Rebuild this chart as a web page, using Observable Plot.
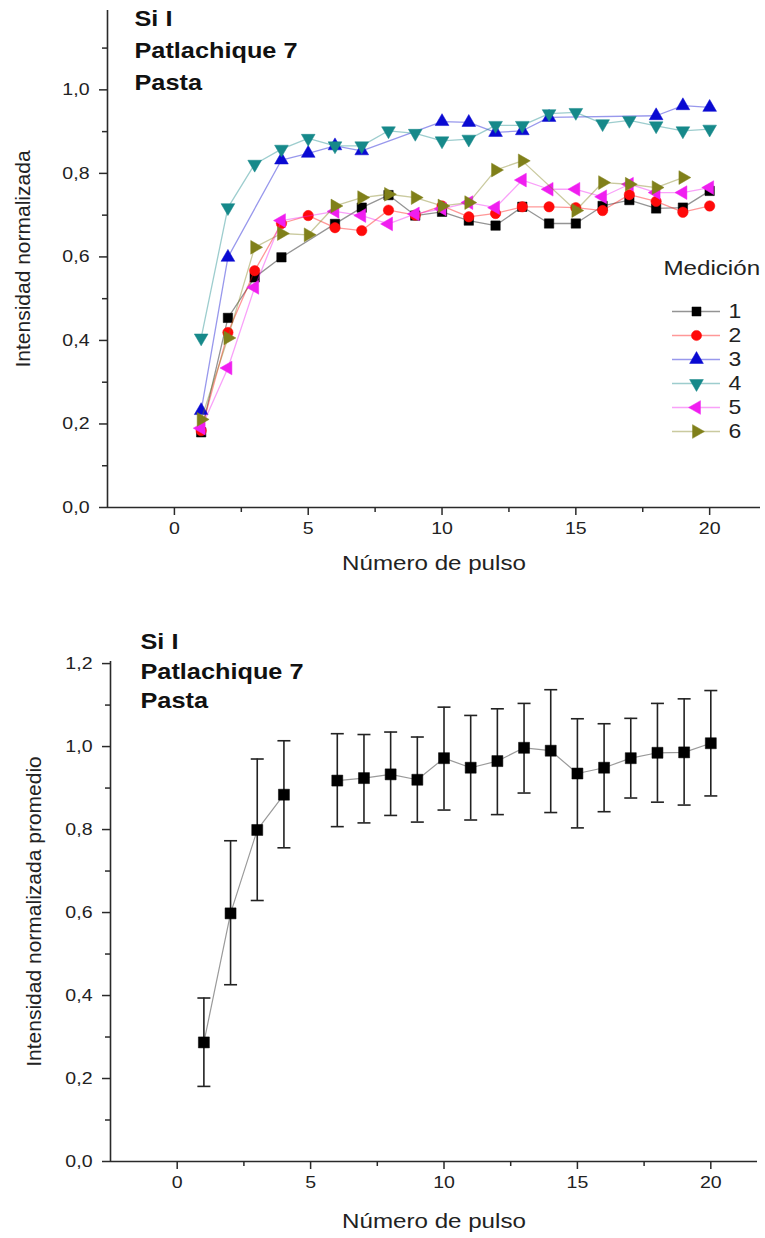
<!DOCTYPE html>
<html>
<head>
<meta charset="utf-8">
<script src="https://cdn.jsdelivr.net/npm/d3@7"></script>
<script src="https://cdn.jsdelivr.net/npm/@observablehq/plot@0.6"></script>
<style>
html, body { margin: 0; padding: 0; background: #fff; }
#wrap { position: relative; width: 765px; height: 1238px; overflow: hidden; font-family: "Liberation Sans", Arial, sans-serif; }
#top, #bottom, #legend { position: absolute; }
#top { left: 0; top: 0; }
#bottom { left: 0; top: 600px; }
#legend { left: 650px; top: 250px; }
svg { display: block; }
</style>
</head>
<body>
<div id="wrap"><div id="top"></div><div id="bottom"></div><div id="legend"></div></div>
<script>
// ---------- data ----------
const pulses = [1, 2, 3, 4, 5, 6, 7, 8, 9, 10, 11, 12, 13, 14, 15, 16, 17, 18, 19, 20];

const med1 = [0.180, 0.454, 0.551, 0.599, null, 0.679, 0.718, 0.748, 0.699, 0.708, 0.687, 0.675, 0.720, 0.680, 0.680, 0.722, 0.736, 0.716, 0.718, 0.758];
const med2 = [0.184, 0.419, 0.567, 0.680, 0.699, 0.670, 0.663, 0.712, 0.700, 0.722, 0.696, 0.704, 0.720, 0.720, 0.718, 0.711, 0.749, 0.733, 0.707, 0.722];
const med3 = [0.232, 0.599, null, 0.832, 0.848, 0.866, 0.854, null, null, 0.924, 0.922, 0.898, 0.902, 0.934, null, null, null, 0.938, 0.962, 0.958];
const med4 = [0.406, 0.718, 0.822, 0.858, 0.884, 0.866, 0.866, 0.902, 0.896, 0.878, 0.882, 0.915, 0.915, 0.943, 0.946, 0.919, 0.927, 0.914, 0.902, 0.906];
const med5 = [0.190, 0.334, 0.527, 0.687, null, 0.709, 0.699, 0.679, 0.703, 0.715, 0.730, 0.718, 0.784, 0.762, 0.762, 0.744, 0.774, 0.754, 0.754, 0.766];
const med6 = [0.211, 0.406, 0.623, 0.656, 0.653, 0.722, 0.742, 0.750, 0.742, 0.722, 0.730, 0.808, 0.830, null, 0.711, 0.778, 0.774, 0.766, 0.790, null];

const seriesNames = ["1", "2", "3", "4", "5", "6"];
const seriesValues = [med1, med2, med3, med4, med5, med6];
const seriesColors = ["#000000", "#ff0a0a", "#0a0ad2", "#16898a", "#f01ef0", "#80801a"];
const seriesSymbols = ["square", "circle", "triangle", "triangle", "triangle", "triangle"];
const seriesRotate = [0, 0, 0, 180, -90, 90];

const avgMean = [0.287, 0.598, 0.799, 0.884, null, 0.918, 0.924, 0.933, 0.920, 0.972, 0.949, 0.965, 0.997, 0.990, 0.935, 0.949, 0.972, 0.985, 0.986, 1.008];
const avgHigh = [0.394, 0.773, 0.970, 1.014, null, 1.031, 1.029, 1.035, 1.023, 1.095, 1.075, 1.091, 1.104, 1.137, 1.067, 1.055, 1.068, 1.104, 1.115, 1.135];
const avgLow  = [0.181, 0.426, 0.629, 0.756, null, 0.807, 0.816, 0.834, 0.818, 0.847, 0.823, 0.836, 0.888, 0.841, 0.804, 0.843, 0.876, 0.866, 0.859, 0.881];

const titleLines = "Si I\nPatlachique 7\nPasta";
const xLabel = "Número de pulso";
const yLabelTop = "Intensidad normalizada";
const yLabelBottom = "Intensidad normalizada promedio";
const legendTitle = "Medición";

const xTicks = [0, 5, 10, 15, 20];
const xMinorTicks = [2.5, 7.5, 12.5, 17.5];
const yTicksTop = [0, 0.2, 0.4, 0.6, 0.8, 1.0];
const yMinorTop = [0.1, 0.3, 0.5, 0.7, 0.9, 1.1];
const yTicksBottom = [0, 0.2, 0.4, 0.6, 0.8, 1.0, 1.2];
const yMinorBottom = [0.1, 0.3, 0.5, 0.7, 0.9, 1.1];

// ---------- helpers ----------
const FONT = "Liberation Sans, Arial, sans-serif";
const AXIS = "#2a2a2a";
const comma = d => d.toFixed(1).replace(".", ",");
const STRETCH = 1.15;

function stretchText(svg) {
  svg.querySelectorAll("text").forEach(t => {
    const tr = t.getAttribute("transform") || "";
    if (tr.includes("rotate")) return;
    t.setAttribute("transform", (tr + ` scale(${STRETCH},1)`).trim());
  });
}

function axes(yTicks, yMinor, xDomainMin) {
  return [
    Plot.ruleX([xDomainMin], {stroke: AXIS, strokeWidth: 1.6}),
    Plot.ruleY([0], {stroke: AXIS, strokeWidth: 1.6}),
    Plot.axisY(yTicks, {tickSize: 8, tickPadding: 10, tickFormat: comma, fontSize: 17, stroke: AXIS, strokeWidth: 1.5, fill: "#222", label: null}),
    Plot.axisY(yMinor, {tickSize: 5, tickFormat: () => "", stroke: AXIS, strokeWidth: 1.5, label: null}),
    Plot.axisX(xTicks, {tickSize: 8, tickPadding: 6, tickFormat: d => String(d), fontSize: 17, stroke: AXIS, strokeWidth: 1.5, fill: "#222", label: null}),
    Plot.axisX(xMinorTicks, {tickSize: 5, tickFormat: () => "", stroke: AXIS, strokeWidth: 1.5, label: null})
  ];
}

// ---------- top chart ----------
const topMarks = [];
seriesNames.forEach((name, si) => {
  const rows = pulses.map((p, i) => ({pulse: p, value: seriesValues[si][i], series: name}))
    .filter(d => d.value != null);
  topMarks.push(Plot.line(rows, {x: "pulse", y: "value", stroke: seriesColors[si], strokeOpacity: 0.42, strokeWidth: 1.3}));
  topMarks.push(Plot.dot(rows, {
    x: "pulse", y: "value", symbol: seriesSymbols[si], rotate: seriesRotate[si],
    r: si === 0 ? 5.3 : si === 1 ? 5.2 : 5.1, fill: seriesColors[si], stroke: seriesColors[si], strokeWidth: 0.5
  }));
});

const topPlot = Plot.plot({
  width: 765, height: 600,
  marginLeft: 107, marginRight: 5, marginTop: 10, marginBottom: 93,
  x: {domain: [-2.5, 21.9], axis: null},
  y: {domain: [0, 1.19], axis: null},
  style: {fontFamily: FONT, background: "white", color: "#222"},
  marks: [
    ...axes(yTicksTop, yMinorTop, -2.5),
    ...topMarks,
    Plot.text([titleLines], {frameAnchor: "top-left", dx: 27, dy: -7, lineAnchor: "top", textAnchor: "start", fontSize: 22, fontWeight: "bold", lineHeight: 1.45, fill: "#111"}),
    Plot.text([xLabel], {frameAnchor: "bottom", dy: 62, textAnchor: "middle", fontSize: 21, fill: "#222"}),
    Plot.text([yLabelTop], {frameAnchor: "left", dx: -84, rotate: -90, textAnchor: "middle", lineAnchor: "middle", fontSize: 21, fill: "#222"})
  ]
});
stretchText(topPlot);
document.getElementById("top").appendChild(topPlot);

// ---------- legend ----------
const legendRows = seriesNames.map((name, i) => ({name, color: seriesColors[i], symbol: seriesSymbols[i], rotate: seriesRotate[i]}));
const legendPlot = Plot.plot({
  width: 115, height: 200,
  marginLeft: 22, marginRight: 45, marginTop: 0, marginBottom: 0,
  x: {domain: [0, 1], axis: null},
  y: {type: "point", domain: seriesNames, range: [60, 182], padding: 0, axis: null},
  style: {fontFamily: FONT, background: "transparent", color: "#222"},
  marks: [
    Plot.ruleY(legendRows, {y: "name", stroke: "color", strokeOpacity: 0.42, strokeWidth: 1.3}),
    ...legendRows.map(r => Plot.dot([r], {x: () => 0.5, y: "name", symbol: r.symbol, rotate: r.rotate, r: 5.1, fill: r.color, stroke: r.color, strokeWidth: 0.5})),
    Plot.text(legendRows, {x: () => 1, y: "name", text: "name", dx: 8, textAnchor: "start", fontSize: 20, fill: "#222"}),
    Plot.text([legendTitle], {frameAnchor: "top-left", dx: -9, dy: 18, textAnchor: "start", lineAnchor: "middle", fontSize: 21, fill: "#222"})
  ]
});
stretchText(legendPlot);
document.getElementById("legend").appendChild(legendPlot);

// ---------- bottom chart ----------
const avgRows = pulses.map((p, i) => ({pulse: p, mean: avgMean[i], lo: avgLow[i], hi: avgHigh[i]}));
const avgValid = avgRows.filter(d => d.mean != null);
const capSymbol = {
  draw(context, size) {
    const h = Math.sqrt(size / Math.PI);
    context.moveTo(-h, 0);
    context.lineTo(h, 0);
  }
};

const bottomPlot = Plot.plot({
  width: 765, height: 638,
  marginLeft: 110, marginRight: 8, marginTop: 61, marginBottom: 77,
  x: {domain: [-2.5, 21.75], axis: null},
  y: {domain: [0, 1.205], axis: null},
  style: {fontFamily: FONT, background: "white", color: "#222"},
  marks: [
    ...axes(yTicksBottom, yMinorBottom, -2.5),
    Plot.line(avgRows, {x: "pulse", y: "mean", stroke: "#9a9a9a", strokeWidth: 1.2}),
    Plot.ruleX(avgValid, {x: "pulse", y1: "lo", y2: "hi", stroke: "#222", strokeWidth: 1.6}),
    Plot.dot(avgValid, {x: "pulse", y: "lo", symbol: capSymbol, r: 6.5, fill: "none", stroke: "#222", strokeWidth: 1.6}),
    Plot.dot(avgValid, {x: "pulse", y: "hi", symbol: capSymbol, r: 6.5, fill: "none", stroke: "#222", strokeWidth: 1.6}),
    Plot.dot(avgValid, {x: "pulse", y: "mean", symbol: "square", r: 6.2, fill: "#000", stroke: "#000", strokeWidth: 0.5}),
    Plot.text([titleLines], {frameAnchor: "top-left", dx: 30, dy: -33, lineAnchor: "top", textAnchor: "start", fontSize: 22, fontWeight: "bold", lineHeight: 1.34, fill: "#111"}),
    Plot.text([xLabel], {frameAnchor: "bottom", dy: 66, textAnchor: "middle", fontSize: 21, fill: "#222"}),
    Plot.text([yLabelBottom], {frameAnchor: "left", dx: -76, rotate: -90, textAnchor: "middle", lineAnchor: "middle", fontSize: 21, fill: "#222"})
  ]
});
stretchText(bottomPlot);
document.getElementById("bottom").appendChild(bottomPlot);
</script>
</body>
</html>
